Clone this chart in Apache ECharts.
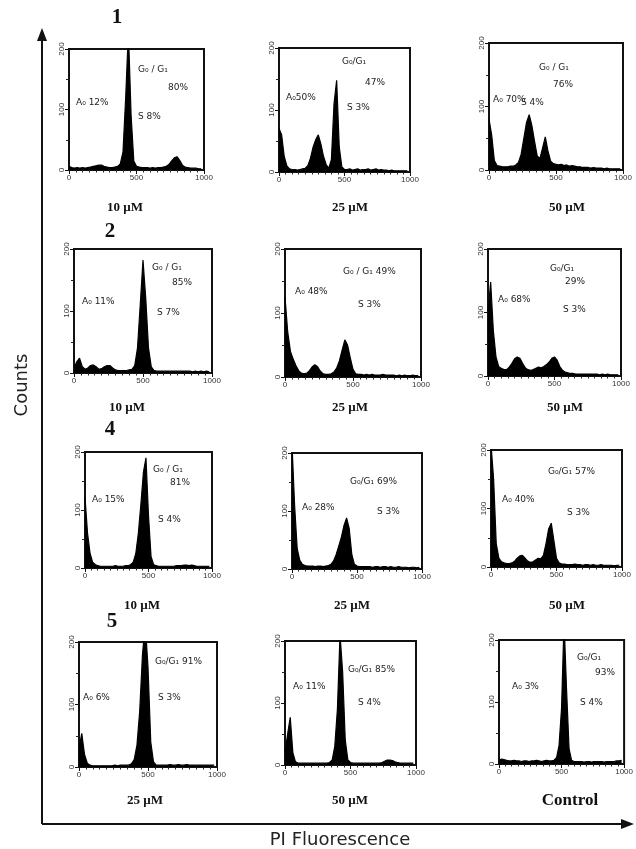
<!DOCTYPE html>
<html>
<head>
<meta charset="utf-8">
<script src="https://cdn.jsdelivr.net/npm/echarts@6/dist/echarts.min.js"></script>
<style>
  html, body { margin: 0; padding: 0; background: #fff; }
  #chart { width: 636px; height: 849px; }
</style>
</head>
<body>
<div id="chart"></div>
<script>
// Fluorescence channels (bin positions, 0..980)
const channels = [0,20,40,60,80,100,120,140,160,180,200,220,240,260,280,300,320,340,360,380,
  400,420,440,460,480,500,520,540,560,580,600,620,640,660,680,700,720,740,760,780,
  800,820,840,860,880,900,920,940,960,980];

// Counts per channel, one array per panel
const row1_10uM = [6,4,3,4,3,4,3,4,5,6, 7,8,8,6,5,4,4,5,6,10, 30,120,230,90,15,6,5,4,4,4, 3,4,3,4,4,5,6,9,15,20, 22,16,8,5,4,3,3,3,2,2];
const row1_25uM = [70,60,25,10,5,4,4,3,4,5, 6,10,22,40,52,60,45,25,12,6, 20,110,148,40,8,4,4,5,3,4, 5,3,4,4,5,3,4,5,3,4, 3,3,2,3,2,2,2,2,2,2];
const row1_50uM = [80,55,15,7,6,5,5,5,6,6, 8,12,25,50,75,87,70,45,22,18, 35,52,30,14,10,9,8,9,7,8, 6,7,6,5,5,4,4,4,3,4, 3,3,3,2,3,2,2,2,2,2];
const row2_10uM = [8,18,24,10,6,8,12,13,10,6, 7,10,12,12,8,5,4,4,4,4, 5,6,12,40,110,182,120,40,10,4, 3,3,3,3,3,3,3,3,3,3, 3,3,3,2,3,2,3,2,3,2];
const row2_25uM = [125,70,40,28,18,10,6,5,6,10, 16,19,16,9,5,4,4,5,8,14, 25,42,58,50,30,12,5,4,4,3, 4,3,4,3,3,3,4,3,3,3, 3,2,3,2,3,2,2,3,2,2];
const row2_50uM = [100,148,72,30,15,12,10,10,14,20, 27,30,28,20,13,10,9,10,12,14, 13,15,18,22,28,30,25,15,9,6, 5,4,4,3,3,3,3,3,3,3, 3,3,2,3,2,3,2,2,2,2];
const row4_10uM = [122,60,25,10,6,4,3,3,3,3, 3,3,4,3,3,3,4,4,6,10, 25,60,110,165,190,90,20,6,4,3, 3,3,3,3,3,3,4,4,4,5, 5,4,5,4,3,3,3,3,3,3];
const row4_25uM = [215,110,35,15,8,6,5,5,5,4, 5,5,4,5,6,8,14,25,40,55, 75,88,70,25,8,5,4,4,4,4, 4,3,4,4,3,4,4,3,4,3, 3,4,3,3,3,2,3,3,2,3];
const row4_50uM = [210,150,40,15,9,7,6,6,7,10, 15,19,20,15,10,8,9,12,15,14, 20,40,65,75,45,15,7,5,5,4, 4,4,5,4,4,3,4,4,3,4, 3,3,4,3,3,3,3,2,3,3];
const row5_25uM = [30,54,20,6,3,2,2,2,2,2, 2,2,2,3,2,3,3,3,3,5, 12,35,90,180,230,160,40,8,3,3, 3,3,3,4,3,3,4,3,3,4, 3,3,3,3,3,3,3,3,3,3];
const row5_50uM = [20,50,77,20,5,3,3,3,3,3, 3,3,3,3,3,3,3,4,8,30, 90,210,150,40,8,4,3,3,3,3, 3,3,3,3,3,3,3,4,6,8, 8,7,5,4,3,3,3,3,3,3];
const control   = [6,8,7,6,5,5,6,5,5,4, 5,5,4,5,5,6,5,4,5,6, 5,5,6,10,30,90,230,120,25,6, 4,4,4,4,3,4,4,3,4,4, 4,4,3,4,4,4,4,5,5,6];

// Tick labels
const xTicks = [0, 500, 1000];
const yTicks = [0, 100, 200];

// Row labels and condition labels
const rowLabels = ['1', '2', '4', '5'];
const conditions = ['10 µM','25 µM','50 µM','10 µM','25 µM','50 µM','10 µM','25 µM','50 µM','25 µM','50 µM','Control'];

// Phase annotations per panel
const notes = [
  [['G₀ / G₁',0], ['80%',1], ['A₀ 12%',2], ['S 8%',3]],
  [['G₀/G₁',0], ['47%',1], ['A₀50%',2], ['S 3%',3]],
  [['G₀ / G₁',0], ['76%',1], ['A₀ 70%',2], ['S 4%',3]],
  [['G₀ / G₁',0], ['85%',1], ['A₀ 11%',2], ['S 7%',3]],
  [['G₀ / G₁ 49%',0], ['A₀ 48%',2], ['S 3%',3]],
  [['G₀/G₁',0], ['29%',1], ['A₀ 68%',2], ['S 3%',3]],
  [['G₀ / G₁',0], ['81%',1], ['A₀ 15%',2], ['S 4%',3]],
  [['G₀/G₁ 69%',0], ['A₀ 28%',2], ['S 3%',3]],
  [['G₀/G₁ 57%',0], ['A₀ 40%',2], ['S 3%',3]],
  [['G₀/G₁ 91%',0], ['A₀ 6%',2], ['S 3%',3]],
  [['G₀/G₁ 85%',0], ['A₀ 11%',2], ['S 4%',3]],
  [['G₀/G₁',0], ['93%',1], ['A₀ 3%',2], ['S 4%',3]]
];

const seriesData = [row1_10uM,row1_25uM,row1_50uM,row2_10uM,row2_25uM,row2_50uM,row4_10uM,row4_25uM,row4_50uM,row5_25uM,row5_50uM,control];

// ---- layout (pixels) ----
const boxes = [
  [69,49,135,121],[279,48,131,124],[489,43,134,127],
  [74,249,138,124],[285,249,136,128],[488,249,133,127],
  [85,452,127,116],[292,453,130,116],[491,450,131,117],
  [79,642,138,125],[285,641,131,124],[499,640,131,124]
];
const notePos = [
  [[138,70],[168,88],[76,103],[138,117]],
  [[342,62],[365,83],[286,98],[347,108]],
  [[539,68],[553,85],[493,100],[521,103]],
  [[152,268],[172,283],[82,302],[157,313]],
  [[343,272],null,[295,292],[358,305]],
  [[550,269],[565,282],[498,300],[563,310]],
  [[153,470],[170,483],[92,500],[158,520]],
  [[350,482],null,[302,508],[377,512]],
  [[548,472],null,[502,500],[567,513]],
  [[155,662],null,[83,698],[158,698]],
  [[348,670],null,[293,687],[358,703]],
  [[577,658],[595,673],[512,687],[580,703]]
];
const condPos = [[125,208],[350,208],[567,208],[127,408],[350,408],[565,408],[142,606],[352,606],[567,606],[145,801],[350,801],[570,801]];
const rowPos = [[117,18],[110,232],[110,430],[112,622]];

const grids = [], xAxes = [], yAxes = [], series = [], graphics = [];
boxes.forEach((b, i) => {
  grids.push({left: b[0], top: b[1], width: b[2], height: b[3], show: true, borderColor: '#111', borderWidth: 2, backgroundColor: '#fff'});
  xAxes.push({
    type: 'value', gridIndex: i, min: xTicks[0], max: xTicks[2], interval: xTicks[1] - xTicks[0],
    axisLine: {show: true, lineStyle: {color: '#111', width: 2}},
    axisTick: {show: true, length: 4, lineStyle: {color: '#111'}},
    minorTick: {show: true, splitNumber: 10, length: 2.5, lineStyle: {color: '#222'}},
    splitLine: {show: false},
    axisLabel: {fontSize: 8, color: '#333', margin: 4, fontFamily: 'Liberation Sans', formatter: v => String(v)}
  });
  yAxes.push({
    type: 'value', gridIndex: i, min: yTicks[0], max: yTicks[2], interval: yTicks[1] - yTicks[0],
    axisLine: {show: true, lineStyle: {color: '#111', width: 2}},
    axisTick: {show: true, length: 4, lineStyle: {color: '#111'}},
    minorTick: {show: true, splitNumber: 2, length: 3, lineStyle: {color: '#222'}},
    splitLine: {show: false},
    axisLabel: {fontSize: 8, color: '#333', margin: 3, rotate: 90, fontFamily: 'Liberation Sans', formatter: v => String(v)}
  });
  series.push({
    type: 'line', xAxisIndex: i, yAxisIndex: i,
    data: channels.map((c, k) => [c, seriesData[i][k]]),
    showSymbol: false, symbol: 'none', clip: true,
    lineStyle: {color: '#000', width: 1.2},
    areaStyle: {color: '#000', opacity: 1},
    silent: true
  });
  notes[i].forEach(n => {
    const p = notePos[i][n[1]];
    graphics.push({type: 'text', x: p[0], y: p[1], silent: true,
      style: {text: n[0], font: '9px "DejaVu Sans"', fill: '#222', textAlign: 'left', textVerticalAlign: 'middle'}});
  });
  const isCtrl = conditions[i] === 'Control';
  graphics.push({type: 'text', x: condPos[i][0], y: condPos[i][1], silent: true,
    style: {text: conditions[i], font: isCtrl ? 'bold 17px "Liberation Serif"' : 'bold 13px "Liberation Serif"', fill: '#111', textAlign: 'center', textVerticalAlign: 'middle'}});
});
rowLabels.forEach((r, i) => {
  graphics.push({type: 'text', x: rowPos[i][0], y: rowPos[i][1], silent: true,
    style: {text: r, font: 'bold 21px "Liberation Serif"', fill: '#111', textAlign: 'center', textVerticalAlign: 'middle'}});
});
// Outer axes with arrows
graphics.push({type: 'line', silent: true, shape: {x1: 42, y1: 38, x2: 42, y2: 824}, style: {stroke: '#111', lineWidth: 2}});
graphics.push({type: 'line', silent: true, shape: {x1: 42, y1: 824, x2: 624, y2: 824}, style: {stroke: '#111', lineWidth: 2}});
graphics.push({type: 'polygon', silent: true, shape: {points: [[42,28],[37,41],[47,41]]}, style: {fill: '#111'}});
graphics.push({type: 'polygon', silent: true, shape: {points: [[634,824],[621,819],[621,829]]}, style: {fill: '#111'}});
graphics.push({type: 'text', x: 22, y: 385, rotation: Math.PI / 2, silent: true,
  style: {text: 'Counts', font: '18px "DejaVu Sans"', fill: '#222', textAlign: 'center', textVerticalAlign: 'middle'}});
graphics.push({type: 'text', x: 340, y: 840, silent: true,
  style: {text: 'PI Fluorescence', font: '18px "DejaVu Sans"', fill: '#222', textAlign: 'center', textVerticalAlign: 'middle'}});

const chart = echarts.init(document.getElementById('chart'), null, {renderer: 'canvas'});
chart.setOption({
  animation: false,
  backgroundColor: '#fff',
  grid: grids, xAxis: xAxes, yAxis: yAxes, series: series,
  graphic: graphics
});
</script>
</body>
</html>
